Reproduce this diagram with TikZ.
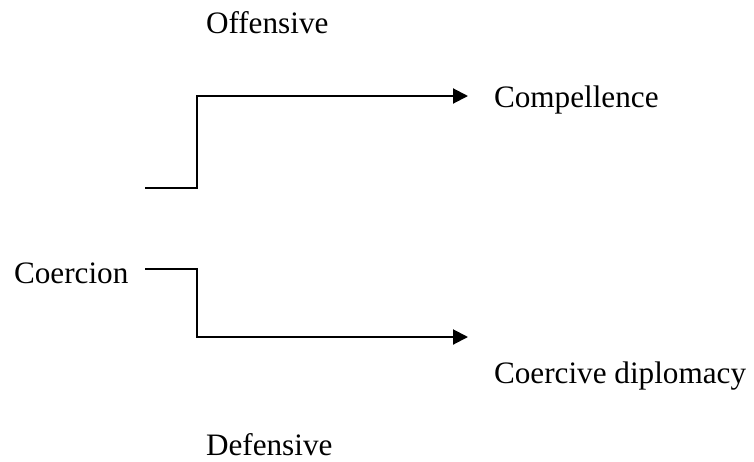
\documentclass[tikz,border=0pt]{standalone}
\usepackage{fontspec}
\setmainfont{Liberation Serif}
\usetikzlibrary{arrows.meta}

\begin{document}
\begin{tikzpicture}[x=0.5pt, y=-0.5pt, line width = 1pt,
  lbl/.style={anchor=base west, inner sep=0pt, font=\fontsize{15.6}{18}\selectfont},
  arr/.style={-{Triangle[length=7.5pt,width=7.5pt]}}]

\useasboundingbox (0,0) rectangle (754,461);

\node[lbl] (off) at (205,33) {Offensive};
\node[lbl] (comp) at (493,107) {Compellence};
\node[lbl] (coer) at (13,283) {Coercion};
\node[lbl] (cdip) at (493,383) {Coercive diplomacy};
\node[lbl] (def) at (205,455) {Defensive};

\coordinate (upstart) at (145,188);
\coordinate (uptip) at (468,96);
\coordinate (lowstart) at (145,269);
\coordinate (lowtip) at (468,337);

\draw[arr] (upstart) -- (197,188) |- (uptip);
\draw[arr] (lowstart) -- (197,269) |- (lowtip);

\end{tikzpicture}
\end{document}
